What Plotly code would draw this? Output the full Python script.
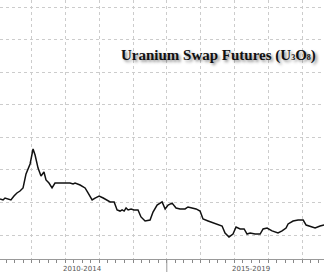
import plotly.graph_objects as go

dates = [
    "2010-01-25", "2010-02-27", "2010-03-20", "2010-04-20", "2010-05-23", "2010-06-25",
    "2010-07-27", "2010-08-29", "2010-10-01", "2010-11-02", "2010-11-24", "2010-12-16",
    "2011-01-17", "2011-02-08", "2011-03-12", "2011-04-13", "2011-05-15", "2011-06-06",
    "2011-07-08", "2011-08-10", "2011-09-11", "2011-11-04", "2011-12-28", "2012-02-20",
    "2012-03-24", "2012-04-15", "2012-06-08", "2012-08-01", "2012-09-02", "2012-10-16",
    "2012-11-17", "2012-12-31", "2013-02-13", "2013-03-28", "2013-04-29", "2013-06-11",
    "2013-07-13", "2013-08-14", "2013-09-05", "2013-09-27", "2013-10-18", "2013-11-09",
    "2013-12-11", "2014-01-12", "2014-02-24", "2014-03-28", "2014-05-11", "2014-07-04",
    "2014-08-05", "2014-09-18", "2014-11-11", "2014-12-14", "2015-01-15", "2015-02-27",
    "2015-04-11", "2015-05-24", "2015-07-17", "2015-08-18", "2015-10-01", "2015-11-13",
    "2015-12-26", "2016-01-27", "2016-03-22", "2016-05-15", "2016-06-27", "2016-08-20",
    "2016-09-21", "2016-11-03", "2016-12-16", "2017-01-18", "2017-03-03", "2017-04-15",
    "2017-05-17", "2017-06-19", "2017-08-12", "2017-10-05", "2017-11-06", "2017-12-19",
    "2018-02-11", "2018-04-16", "2018-05-30", "2018-07-12", "2018-08-03", "2018-09-26",
    "2018-11-19", "2019-01-13", "2019-02-14", "2019-03-28", "2019-05-22", "2019-07-15",
    "2019-08-27",
]
prices = [
    42.1, 41.5, 42.7, 42.1, 41.5, 43.9,
    45.8, 47.0, 48.9, 57.5, 61.1, 63.6,
    72.8, 69.1, 61.1, 56.2, 58.7, 53.8,
    51.9, 48.9, 51.9, 51.9, 51.9, 51.9,
    51.3, 51.9, 50.7, 48.9, 45.8, 41.5,
    42.7, 43.9, 42.7, 41.5, 40.3, 40.3,
    35.4, 34.7, 35.4, 34.7, 36.6, 35.4,
    36.0, 35.4, 35.4, 31.1, 28.6, 29.2,
    34.1, 38.4, 40.3, 36.0, 38.4, 39.6,
    36.6, 36.0, 36.0, 37.2, 36.6, 36.0,
    34.7, 29.8, 28.6, 27.4, 26.8, 25.5,
    21.2, 18.8, 20.6, 24.9, 23.7, 23.7,
    20.6, 21.2, 20.6, 20.6, 23.7, 24.3,
    22.5, 21.2, 22.5, 24.3, 26.8, 28.6,
    29.2, 29.2, 26.1, 25.5, 24.3, 25.5,
    26.1,
]
period_labels = ["2010-2014", "2015-2019"]
period_centers = ["2012-07-02", "2017-07-02"]
period_split = "2015-01-01"
title_text = ("<b>Uranium Swap Futures (U<span style='font-size:8px'>3</span>"
              "O<span style='font-size:8px'>8</span>)</b>")

fig = go.Figure()
fig.add_trace(go.Scatter(
    x=dates, y=prices, mode="lines",
    line=dict(color="#111111", width=1.5),
    hoverinfo="skip", showlegend=False,
))

fig.update_layout(
    width=324, height=272,
    margin=dict(l=0, r=0, t=0, b=13),
    paper_bgcolor="white", plot_bgcolor="white",
    xaxis=dict(
        type="date",
        range=["2010-01-25", "2019-08-26"],
        tick0="2011-01-01", dtick="M12",
        showticklabels=False,
        ticks="outside", ticklen=3, tickcolor="#888888", tickwidth=1,
        showgrid=True, gridcolor="#cccccc", griddash="dot", gridwidth=1,
        showline=True, linecolor="#999999", linewidth=1,
        minor=dict(dtick="M3", ticks="outside", ticklen=3, tickcolor="#888888",
                   showgrid=False),
        zeroline=False,
    ),
    yaxis=dict(
        range=[5.26, 164.3],
        tick0=0, dtick=20,
        showticklabels=False,
        showgrid=True, gridcolor="#cccccc", griddash="dot", gridwidth=1,
        zeroline=False, showline=False,
    ),
)

for lab, cx in zip(period_labels, period_centers):
    fig.add_annotation(
        x=cx, xref="x", y=-0.039, yref="paper",
        text=lab, showarrow=False, xanchor="center", yanchor="middle",
        font=dict(family="DejaVu Sans", size=7, color="#555555"),
    )

fig.add_shape(
    type="line", xref="x", yref="paper",
    x0=period_split, x1=period_split, y0=0, y1=-0.06,
    line=dict(color="#999999", width=1),
)

fig.add_annotation(
    x=318 / 324, xref="paper", y=(259 - 55) / 259, yref="paper",
    text=title_text, showarrow=False, xanchor="right", yanchor="middle",
    font=dict(family="'Times New Roman', Times, serif", size=15,
              color="#111111", shadow="2px 2px 3px rgba(0,0,0,0.45)"),
)

fig.write_html("out.html")
